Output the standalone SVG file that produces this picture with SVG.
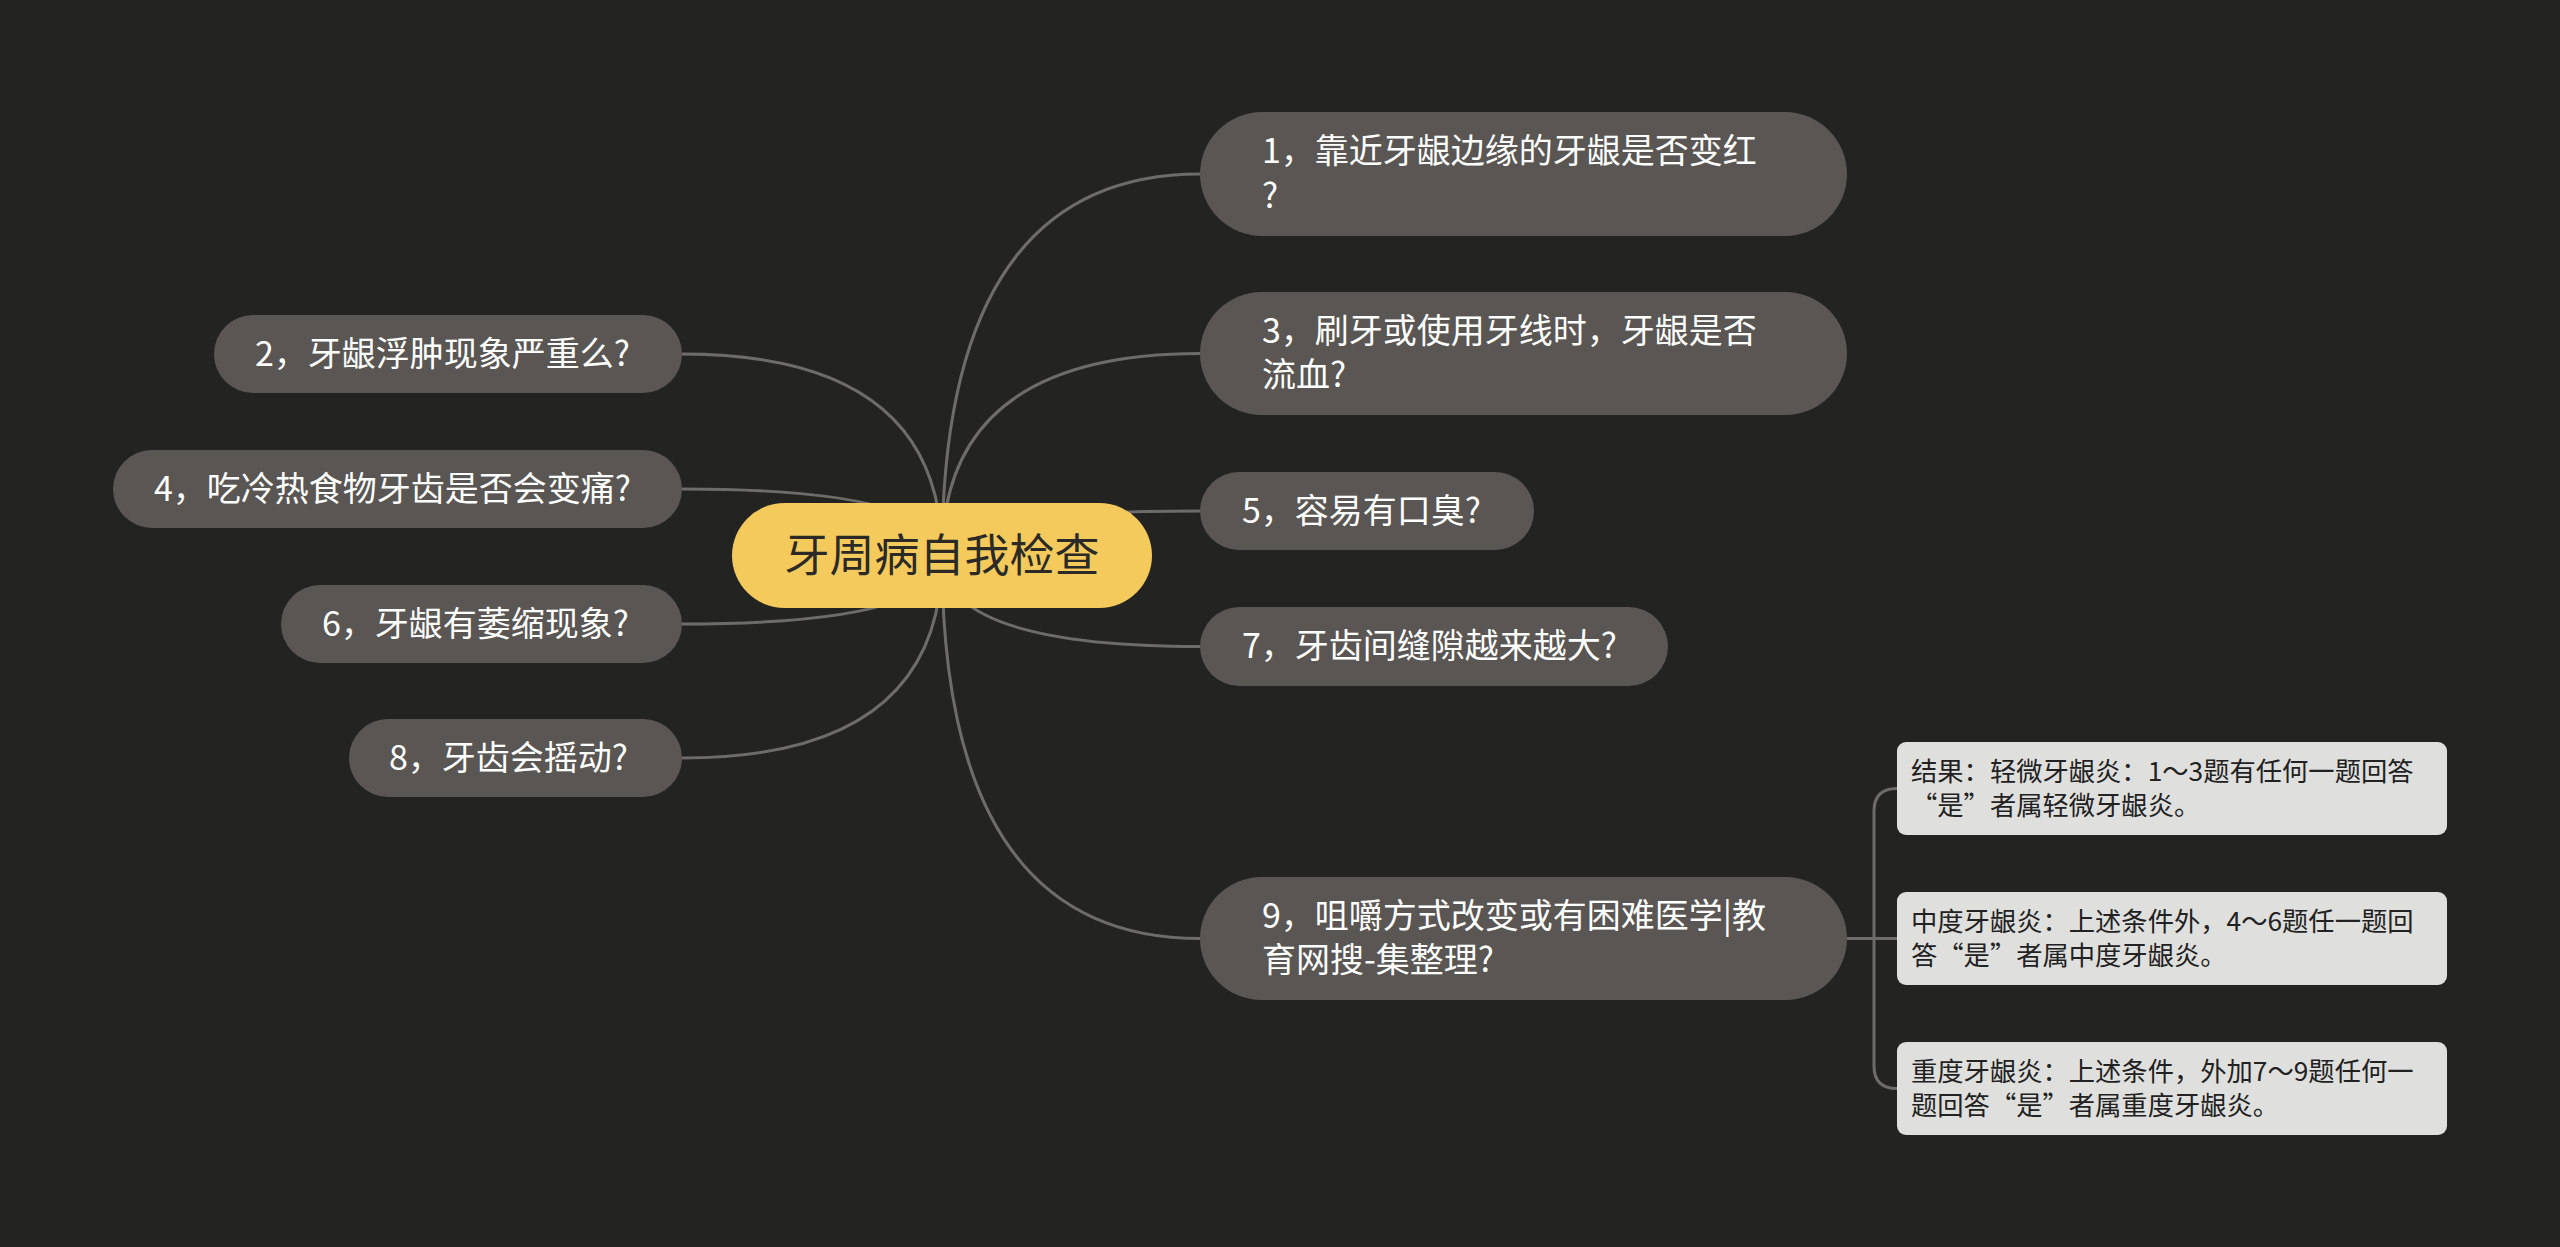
<svg xmlns="http://www.w3.org/2000/svg" width="2560" height="1247" viewBox="0 0 2560 1247">
<style>
.bg{fill:#232322}
.edge{fill:none;stroke:#6e6c6a;stroke-width:3}
.root rect{fill:#f5ca5d}
.root text{fill:#2b2a27;font-family:"Noto Sans CJK SC","Noto Sans",sans-serif;font-size:45px;text-anchor:middle}
.topic rect{fill:#5a5653}
.topic text{fill:#ffffff;font-family:"Noto Sans CJK SC","Noto Sans",sans-serif;font-size:34px}
.sub rect{fill:#dfdfde}
.sub text{fill:#222222;font-family:"Noto Sans CJK SC","Noto Sans",sans-serif;font-size:26.3px}
</style>
<rect class="bg" x="0" y="0" width="2560" height="1247"/>
<g id="connectors">
<path class="edge" d="M942,556 Q942,174 1200,174"/>
<path class="edge" d="M942,556 Q942,353.5 1200,353.5"/>
<path class="edge" d="M942,556 Q942,511 1200,511"/>
<path class="edge" d="M942,556 Q942,646.5 1200,646.5"/>
<path class="edge" d="M942,556 Q942,938.5 1200,938.5"/>
<path class="edge" d="M942,556 Q942,354 682,354"/>
<path class="edge" d="M942,556 Q942,489 682,489"/>
<path class="edge" d="M942,556 Q942,624 682,624"/>
<path class="edge" d="M942,556 Q942,758 682,758"/>
<path class="edge" d="M1847,938.5 H1897"/>
<path class="edge" d="M1874,938.5 V811 Q1874,788.5 1897,788.5"/>
<path class="edge" d="M1874,938.5 V1066 Q1874,1088.5 1897,1088.5"/>
</g>
<g id="root" class="root">
<rect x="732" y="503" width="420" height="105" rx="52.5"/>
<text x="942" y="572">牙周病自我检查</text>
</g>
<g id="n1" class="topic">
<rect x="1200" y="112" width="647" height="124" rx="62"/>
<text x="1262" y="163">1，靠近牙龈边缘的牙龈是否变红</text>
<text x="1262" y="208">?</text>
</g>
<g id="n3" class="topic">
<rect x="1200" y="292" width="647" height="123" rx="61.5"/>
<text x="1262" y="343">3，刷牙或使用牙线时，牙龈是否</text>
<text x="1262" y="387">流血?</text>
</g>
<g id="n5" class="topic">
<rect x="1200" y="472" width="334" height="78" rx="39"/>
<text x="1242" y="523">5，容易有口臭?</text>
</g>
<g id="n7" class="topic">
<rect x="1200" y="607" width="468" height="79" rx="39.5"/>
<text x="1242" y="658">7，牙齿间缝隙越来越大?</text>
</g>
<g id="n9" class="topic">
<rect x="1200" y="877" width="647" height="123" rx="61.5"/>
<text x="1262" y="928">9，咀嚼方式改变或有困难医学|教</text>
<text x="1262" y="972">育网搜-集整理?</text>
</g>
<g id="n2" class="topic">
<rect x="214" y="315" width="468" height="78" rx="39"/>
<text x="255" y="366">2，牙龈浮肿现象严重么?</text>
</g>
<g id="n4" class="topic">
<rect x="113" y="450" width="569" height="78" rx="39"/>
<text x="154" y="501">4，吃冷热食物牙齿是否会变痛?</text>
</g>
<g id="n6" class="topic">
<rect x="281" y="585" width="401" height="78" rx="39"/>
<text x="322" y="636">6，牙龈有萎缩现象?</text>
</g>
<g id="n8" class="topic">
<rect x="349" y="719" width="333" height="78" rx="39"/>
<text x="389" y="770">8，牙齿会摇动?</text>
</g>
<g id="s1" class="sub">
<rect x="1897" y="742" width="550" height="93" rx="9"/>
<text x="1911" y="781">结果：轻微牙龈炎：1～3题有任何一题回答</text>
<text x="1911" y="815">“是”者属轻微牙龈炎。</text>
</g>
<g id="s2" class="sub">
<rect x="1897" y="892" width="550" height="93" rx="9"/>
<text x="1911" y="931">中度牙龈炎：上述条件外，4～6题任一题回</text>
<text x="1911" y="965">答“是”者属中度牙龈炎。</text>
</g>
<g id="s3" class="sub">
<rect x="1897" y="1042" width="550" height="93" rx="9"/>
<text x="1911" y="1081">重度牙龈炎：上述条件，外加7～9题任何一</text>
<text x="1911" y="1115">题回答“是”者属重度牙龈炎。</text>
</g>
</svg>
